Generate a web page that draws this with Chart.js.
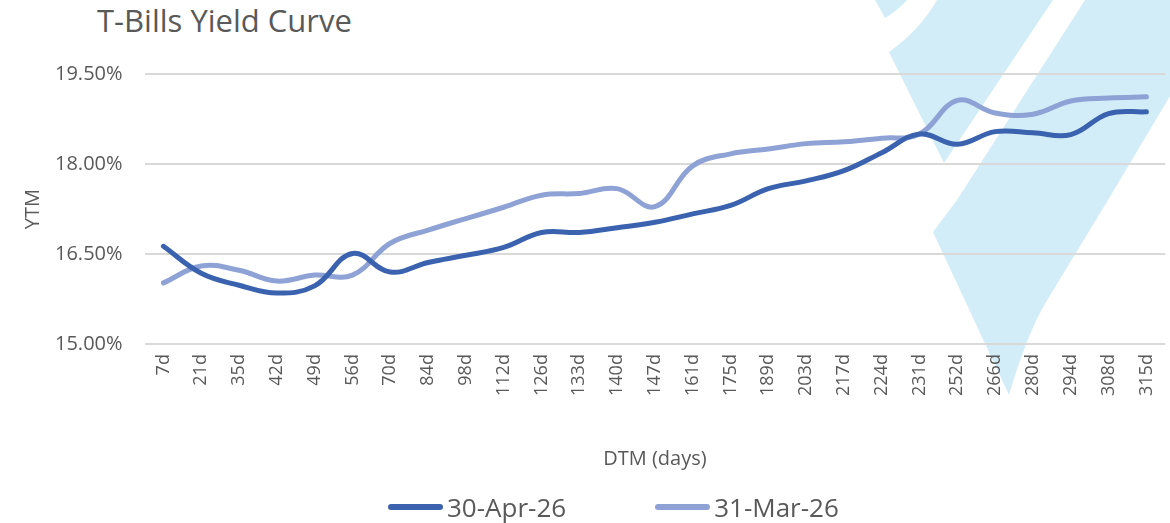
<!DOCTYPE html>
<html>
<head>
<meta charset="utf-8">
<script src="https://cdn.jsdelivr.net/npm/chart.js@4.4.1/dist/chart.umd.min.js"></script>
<style>
  html, body { margin: 0; padding: 0; background: #fff; }
  #wrap { position: relative; width: 1170px; height: 523px; overflow: hidden; }
  #bg { position: absolute; left: 0; top: 0; }
  #title {
    position: absolute; left: 97px; top: -1px;
    font-family: "Open Sans", sans-serif; font-size: 31px; color: #595959;
    line-height: 42px; white-space: nowrap;
  }
  canvas#chart { position: absolute; left: 0; top: 0; }
  #legend {
    position: absolute; left: 388px; top: 489px; display: flex; align-items: center;
    font-family: "Open Sans", sans-serif; font-size: 26px; color: #595959; line-height: 36px;
  }
  .item { display: flex; align-items: center; margin-right: 89px; }
  .swatch { width: 55px; height: 6px; border-radius: 3px; margin-right: 4px; }
</style>
</head>
<body>
<div id="wrap">
  <!-- watermark shapes behind the chart -->
  <svg id="bg" width="1170" height="523">
    <g fill="#D2EDF8">
      <path d="M875,0 L885,18 Q897,11 907,0 Z"/>
      <path d="M889,52 Q920,30 937,0 L1053,0 L944,163 Z"/>
      <path d="M1085,0 L1170,0 L1170,96 L1108,200 L1043,307 Q1025,340 1009,395 L933,232 L957,200 Z"/>
    </g>
  </svg>
  <div id="title">T-Bills Yield Curve</div>
  <canvas id="chart" width="1170" height="523"></canvas>
  <div id="legend"></div>
</div>
<script>
// categories (days to maturity)
const tenors = ['7d', '21d', '35d', '42d', '49d', '56d', '70d', '84d', '98d', '112d', '126d', '133d', '140d',
  '147d', '161d', '175d', '189d', '203d', '217d', '224d', '231d', '252d', '266d', '280d', '294d', '308d', '315d'];

// yields in %
const apr26 = [16.63, 16.18, 15.98, 15.85, 15.97, 16.51, 16.20, 16.36, 16.48, 16.61, 16.86, 16.86, 16.94,
  17.03, 17.17, 17.31, 17.59, 17.72, 17.89, 18.19, 18.50, 18.33, 18.54, 18.52, 18.49, 18.84, 18.87];
const mar26 = [16.02, 16.30, 16.23, 16.05, 16.15, 16.15, 16.68, 16.90, 17.09, 17.28, 17.48, 17.51, 17.59,
  17.29, 17.97, 18.17, 18.25, 18.34, 18.37, 18.43, 18.50, 19.06, 18.85, 18.83, 19.05, 19.10, 19.12];

const yMin = 15, yMax = 19.5, yStep = 1.5;

const textColor = '#595959';
const font = 'Open Sans';

const ctx = document.getElementById('chart').getContext('2d');
const chart = new Chart(ctx, {
  type: 'line',
  data: {
    labels: tenors,
    datasets: [{
      label: '30-Apr-26',
      data: apr26,
      borderColor: '#3A62AE',
      backgroundColor: '#3A62AE',
      borderWidth: 5,
      pointRadius: 0,
      tension: 0.4,
      borderCapStyle: 'round'
    }, {
      label: '31-Mar-26',
      data: mar26,
      borderColor: '#8EA2D5',
      backgroundColor: '#8EA2D5',
      borderWidth: 5,
      pointRadius: 0,
      tension: 0.4,
      borderCapStyle: 'round'
    }]
  },
  options: {
    responsive: false,
    animation: false,
    layout: { padding: { top: 74, left: 21, right: 0, bottom: 52 } },
    scales: {
      x: {
        offset: true,
        grid: { display: false },
        border: { display: false },
        ticks: {
          color: textColor, font: { family: font, size: 18 },
          minRotation: 90, maxRotation: 90, autoSkip: false, padding: 2
        },
        title: {
          display: true, text: 'DTM (days)', color: textColor,
          font: { family: font, size: 20 }, padding: { top: 49, bottom: 0 }
        }
      },
      y: {
        min: yMin, max: yMax,
        grid: { color: '#D9D9D9', lineWidth: 2, drawTicks: false },
        border: { display: false },
        ticks: {
          stepSize: yStep, color: textColor, font: { family: font, size: 20 }, padding: 22,
          callback: v => v.toFixed(2) + '%'
        },
        title: {
          display: true, text: 'YTM', color: textColor,
          font: { family: font, size: 20 }, padding: { top: 0, bottom: -12 }
        }
      }
    },
    plugins: {
      legend: { display: false },
      tooltip: { enabled: false }
    }
  }
});

// legend as html, built from the datasets
const legend = document.getElementById('legend');
chart.data.datasets.forEach(ds => {
  const item = document.createElement('div');
  item.className = 'item';
  const sw = document.createElement('span');
  sw.className = 'swatch';
  sw.style.background = ds.borderColor;
  const txt = document.createElement('span');
  txt.textContent = ds.label;
  item.appendChild(sw);
  item.appendChild(txt);
  legend.appendChild(item);
});
</script>
</body>
</html>
